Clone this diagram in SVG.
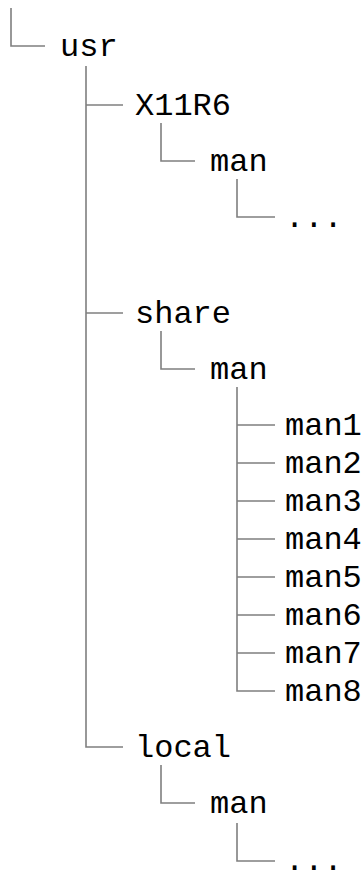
<svg xmlns="http://www.w3.org/2000/svg" width="361" height="876" viewBox="0 0 361 876">
<style>
text{font-family:"Liberation Mono","Courier New",monospace;font-size:32px;fill:#000}
.c path{fill:none;stroke:#7f7f7f;stroke-width:1.6}
</style>
<rect width="361" height="876" fill="#fff"/>
<g class="c" id="connectors">
<path d="M11,8V46H45"/>
<path d="M86,66V747H123"/>
<path d="M86,105H123"/>
<path d="M86,313H123"/>
<path d="M161,123V161H195"/>
<path d="M237,179V217H275"/>
<path d="M161,331V369H195"/>
<path d="M237,387V691H275"/>
<path d="M237,425H275M237,463H275M237,501H275M237,539H275M237,577H275M237,615H275M237,653H275"/>
<path d="M161,765V803H195"/>
<path d="M237,823V861H275"/>
</g>
<g id="usr"><text x="60" y="56">usr</text></g>
<g id="x11r6"><text x="135" y="115">X11R6</text></g>
<g id="x11r6-man"><text x="210" y="171">man</text></g>
<g id="x11r6-more"><text x="285" y="227">...</text></g>
<g id="share"><text x="135" y="323">share</text></g>
<g id="share-man"><text x="210" y="379">man</text></g>
<g id="man1"><text x="285" y="435">man1</text></g>
<g id="man2"><text x="285" y="473">man2</text></g>
<g id="man3"><text x="285" y="511">man3</text></g>
<g id="man4"><text x="285" y="549">man4</text></g>
<g id="man5"><text x="285" y="587">man5</text></g>
<g id="man6"><text x="285" y="625">man6</text></g>
<g id="man7"><text x="285" y="663">man7</text></g>
<g id="man8"><text x="285" y="701">man8</text></g>
<g id="local"><text x="135" y="757">local</text></g>
<g id="local-man"><text x="210" y="813">man</text></g>
<g id="local-more"><text x="285" y="870">...</text></g>
</svg>
